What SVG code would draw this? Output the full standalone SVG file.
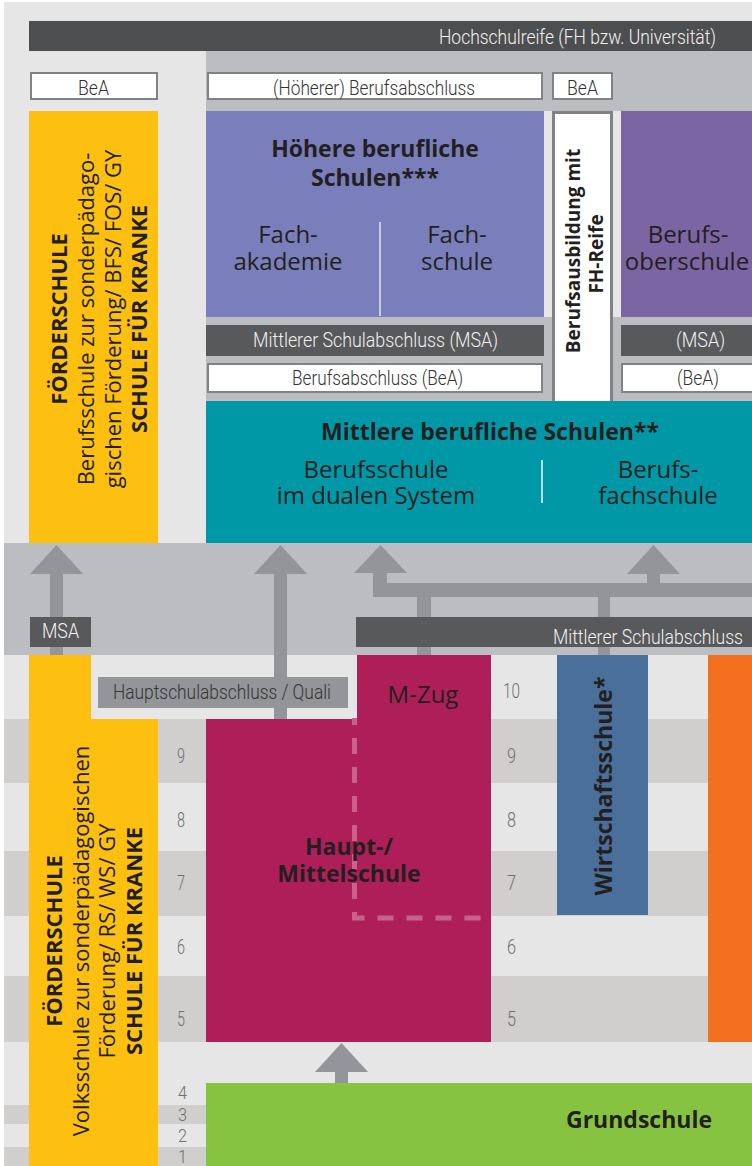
<svg xmlns="http://www.w3.org/2000/svg" width="752" height="1166" viewBox="0 0 752 1166">
<style>
.c{font-family:Roboto,"Liberation Sans",sans-serif;font-weight:300;font-size:20px;}
.cw{fill:#f2f2f2;}
.cd{fill:#333333;}
.num{font-family:Roboto,"Liberation Sans",sans-serif;font-weight:300;font-size:21px;fill:#6d6e71;}
.sm{font-size:19px;}
.h{font-family:"Open Sans","Noto Sans",sans-serif;fill:#231f20;}
.b{font-weight:700;font-size:23px;}
.r{font-weight:400;font-size:24px;}
.y{font-size:22px;}
.bb{font-size:19px;}
.m{text-anchor:middle;}
.wbox{fill:#ffffff;stroke:#808285;stroke-width:2;}
.dark{fill:#58595b;}
.arrow{fill:#939598;}
.rowd{fill:#d0cfcd;}
.rowl{fill:#e6e6e6;}
</style>
<rect x="0" y="0" width="752" height="1166" fill="#ffffff"/>
<rect x="4" y="2" width="748" height="1164" fill="#e6e6e6"/>
<g id="grid">
<rect class="rowd" x="4" y="719" width="748" height="64"/>
<rect class="rowd" x="4" y="851" width="748" height="65"/>
<rect class="rowd" x="4" y="976" width="748" height="66"/>
<rect class="rowd" x="4" y="1105" width="748" height="19"/>
<rect class="rowd" x="4" y="1147" width="748" height="19"/>
</g>
<rect id="band-upper" x="206" y="51" width="546" height="492" fill="#bcbdc0"/>
<rect x="544" y="111" width="9" height="206" fill="#e6e6e6"/>
<rect x="612" y="111" width="9" height="206" fill="#e6e6e6"/>
<rect id="band-middle" x="4" y="543" width="748" height="112" fill="#bcbdc0"/>

<g id="hochschulreife">
<rect x="29" y="21" width="723" height="30" fill="#4d4e50"/>
<text class="c cw" x="439" y="44" style="font-size:21px" textLength="277" lengthAdjust="spacingAndGlyphs">Hochschulreife (FH bzw. Universität)</text>
</g>
<g id="bea-left">
<rect class="wbox" x="31" y="73" width="126" height="26"/>
<text class="c cd" x="78" y="95" textLength="31" lengthAdjust="spacingAndGlyphs">BeA</text>
</g>
<g id="hoeherer-berufsabschluss">
<rect class="wbox" x="208" y="73" width="334" height="26"/>
<text class="c cd" x="273" y="95" textLength="202" lengthAdjust="spacingAndGlyphs">(Höherer) Berufsabschluss</text>
</g>
<g id="bea-right">
<rect class="wbox" x="553" y="73" width="59" height="26"/>
<text class="c cd" x="567" y="95" textLength="31" lengthAdjust="spacingAndGlyphs">BeA</text>
</g>
<g id="foerderschule-berufsschule">
<rect x="29" y="111" width="129" height="432" fill="#fdc010"/>
<text class="h b y m" transform="translate(67,319) rotate(-90)">FÖRDERSCHULE</text>
<text class="h y m" transform="translate(94,319) rotate(-90)">Berufsschule zur sonderpädago-</text>
<text class="h y m" transform="translate(121,319) rotate(-90)">gischen Förderung/ BFS/ FOS/ GY</text>
<text class="h b y m" transform="translate(147,319) rotate(-90)">SCHULE FÜR KRANKE</text>
</g>
<g id="hoehere-berufliche-schulen">
<rect x="206" y="111" width="338" height="206" fill="#7a7fbb"/>
<text class="h b m" x="375" y="157">Höhere berufliche</text>
<text class="h b m" x="375" y="186">Schulen***</text>
<line x1="380" y1="222" x2="380" y2="316" stroke="#c9cbe3" stroke-width="2"/>
<text class="h r m" x="288" y="243">Fach-</text>
<text class="h r m" x="288" y="270">akademie</text>
<text class="h r m" x="457" y="243">Fach-</text>
<text class="h r m" x="457" y="270">schule</text>
</g>
<g id="berufsausbildung-fh-reife">
<rect x="553.5" y="112.5" width="58" height="298" fill="#ffffff" stroke="#808285" stroke-width="3"/>
<text class="h b bb m" transform="translate(580,251) rotate(-90)">Berufsausbildung mit</text>
<text class="h b bb m" transform="translate(603,254) rotate(-90)">FH-Reife</text>
</g>
<g id="berufsoberschule">
<rect x="621" y="111" width="131" height="206" fill="#7b65a3"/>
<text class="h r m" x="688" y="243">Berufs-</text>
<text class="h r m" x="687" y="270">oberschule</text>
</g>
<g id="msa-bar-upper">
<rect class="dark" x="206" y="325" width="338" height="31"/>
<text class="c cw" x="253" y="347" textLength="245" lengthAdjust="spacingAndGlyphs">Mittlerer Schulabschluss (MSA)</text>
<rect class="dark" x="621" y="325" width="131" height="31"/>
<text class="c cw" x="676" y="347" textLength="49" lengthAdjust="spacingAndGlyphs">(MSA)</text>
</g>
<g id="bea-bar-upper">
<rect class="wbox" x="208" y="364" width="334" height="28"/>
<text class="c cd" x="292" y="385" textLength="171" lengthAdjust="spacingAndGlyphs">Berufsabschluss (BeA)</text>
<rect class="wbox" x="622" y="364" width="140" height="28"/>
<text class="c cd" x="677" y="385" textLength="42" lengthAdjust="spacingAndGlyphs">(BeA)</text>
</g>
<g id="mittlere-berufliche-schulen">
<rect x="206" y="401" width="546" height="142" fill="#0098a6"/>
<text class="h b m" x="490" y="440">Mittlere berufliche Schulen**</text>
<text class="h r m" x="376" y="478">Berufsschule</text>
<text class="h r m" x="376" y="504">im dualen System</text>
<line x1="542" y1="460" x2="542" y2="503" stroke="#b8dde2" stroke-width="2"/>
<text class="h r m" x="658" y="478">Berufs-</text>
<text class="h r m" x="658" y="504">fachschule</text>
</g>

<g id="connectors">
<polygon class="arrow" points="30,574 56.5,545 83,574"/>
<rect class="arrow" x="50" y="573" width="13" height="82"/>
<polygon class="arrow" points="254,574 280.5,545 307,574"/>
<rect class="arrow" x="274" y="573" width="13" height="146"/>
<polygon class="arrow" points="354,573 380.5,545 407,573"/>
<rect class="arrow" x="373" y="572" width="14" height="25"/>
<rect class="arrow" x="373" y="583" width="379" height="14"/>
<rect class="arrow" x="417" y="596" width="14" height="59"/>
<rect class="arrow" x="598" y="596" width="12" height="59"/>
<polygon class="arrow" points="627,574 653.5,545 680,574"/>
<rect class="arrow" x="647" y="573" width="13" height="11"/>
<polygon class="arrow" points="315,1072 341.5,1043 368,1072"/>
<rect class="arrow" x="335" y="1071" width="13" height="12"/>
</g>

<g id="msa-left">
<rect class="dark" x="30" y="617" width="61" height="30"/>
<text class="c cw" x="42" y="638" textLength="37" lengthAdjust="spacingAndGlyphs">MSA</text>
</g>
<g id="mittlerer-schulabschluss">
<rect class="dark" x="356" y="617" width="396" height="30"/>
<text class="c cw" x="553" y="644" textLength="190" lengthAdjust="spacingAndGlyphs">Mittlerer Schulabschluss</text>
</g>
<g id="foerderschule-volksschule">
<path d="M29,655 H91 V719 H158 V1166 H29 Z" fill="#fdc010"/>
<text class="h b y m" transform="translate(62,941) rotate(-90)">FÖRDERSCHULE</text>
<text class="h y m" transform="translate(89,941) rotate(-90)">Volksschule zur sonderpädagogischen</text>
<text class="h y m" transform="translate(115,941) rotate(-90)">Förderung/ RS/ WS/ GY</text>
<text class="h b y m" transform="translate(142,941) rotate(-90)">SCHULE FÜR KRANKE</text>
</g>
<g id="haupt-mittelschule">
<path d="M206,719 H357 V655 H491 V1042 H206 Z" fill="#ae1f5a"/>
<path d="M354.5,718 V918 H491" fill="none" stroke="#c8628b" stroke-width="5" stroke-dasharray="16 13" stroke-dashoffset="9"/>
<text class="h r m" x="423" y="703">M-Zug</text>
<text class="h b m" x="349" y="855">Haupt-/</text>
<text class="h b m" x="349" y="882">Mittelschule</text>
</g>
<g id="hauptschulabschluss">
<rect x="98" y="677" width="250" height="31" fill="#939598"/>
<text class="c cd" x="113" y="699" textLength="218" lengthAdjust="spacingAndGlyphs">Hauptschulabschluss / Quali</text>
</g>
<g id="wirtschaftsschule">
<rect x="557" y="655" width="91" height="260" fill="#4a6f9b"/>
<text class="h b m" transform="translate(612,786) rotate(-90)">Wirtschaftsschule*</text>
</g>
<g id="orange">
<rect x="708" y="655" width="44" height="387" fill="#f37021"/>
</g>
<g id="grundschule">
<rect x="206" y="1083" width="546" height="83" fill="#86c340"/>
<text class="h b m" x="639" y="1128">Grundschule</text>
</g>
<g id="grades">
<text class="num" x="503" y="698" textLength="17" lengthAdjust="spacingAndGlyphs">10</text>
<text class="num" x="177" y="763" textLength="8" lengthAdjust="spacingAndGlyphs">9</text>
<text class="num" x="177" y="827" textLength="8" lengthAdjust="spacingAndGlyphs">8</text>
<text class="num" x="177" y="890" textLength="8" lengthAdjust="spacingAndGlyphs">7</text>
<text class="num" x="177" y="954" textLength="8" lengthAdjust="spacingAndGlyphs">6</text>
<text class="num" x="177" y="1026" textLength="8" lengthAdjust="spacingAndGlyphs">5</text>
<text class="num" x="507" y="763" textLength="9" lengthAdjust="spacingAndGlyphs">9</text>
<text class="num" x="507" y="827" textLength="9" lengthAdjust="spacingAndGlyphs">8</text>
<text class="num" x="507" y="890" textLength="9" lengthAdjust="spacingAndGlyphs">7</text>
<text class="num" x="507" y="954" textLength="9" lengthAdjust="spacingAndGlyphs">6</text>
<text class="num" x="507" y="1026" textLength="9" lengthAdjust="spacingAndGlyphs">5</text>
<text class="num sm" x="178" y="1099" textLength="9" lengthAdjust="spacingAndGlyphs">4</text>
<text class="num sm" x="178" y="1121" textLength="9" lengthAdjust="spacingAndGlyphs">3</text>
<text class="num sm" x="178" y="1142" textLength="9" lengthAdjust="spacingAndGlyphs">2</text>
<text class="num sm" x="178" y="1163" textLength="9" lengthAdjust="spacingAndGlyphs">1</text>
</g>
</svg>
